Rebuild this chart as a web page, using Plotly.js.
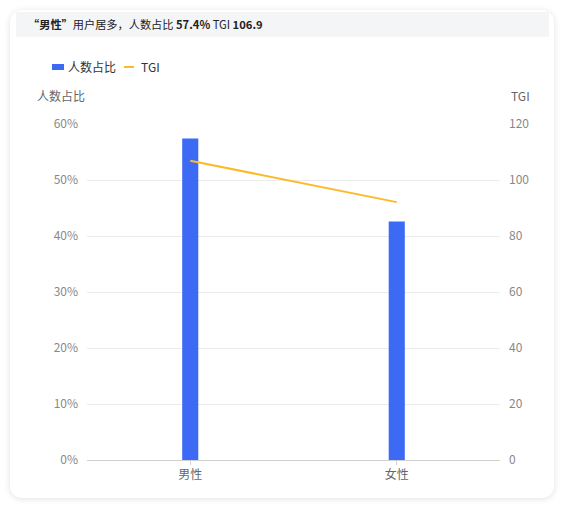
<!DOCTYPE html>
<html>
<head>
<meta charset="utf-8">
<script src="https://cdn.plot.ly/plotly-3.0.1.min.js"></script>
<style>
  html, body { margin: 0; padding: 0; background: #fff; }
  body { width: 564px; height: 509px; position: relative; overflow: hidden;
         font-family: "Noto Sans CJK SC", "Noto Sans", sans-serif; }
  #card { position: absolute; left: 10px; top: 10px; width: 544px; height: 488px;
          background: #fff; border-radius: 12px;
          box-shadow: 0 1px 6px rgba(0,0,0,0.12); }
  #head { position: absolute; left: 16px; top: 12px; width: 533px; height: 25px;
          background: #f4f5f7; font-size: 11.2px; color: #222; line-height: 25px;
          padding-left: 12px; box-sizing: border-box; }
  #legend { position: absolute; left: 52px; top: 57px; height: 16px; font-size: 12px;
            color: #333; line-height: 16px; white-space: nowrap; }
  #legend span { display: inline-block; vertical-align: middle; }
  .sw-bar { width: 12px; height: 6px; background: #3d6af5; margin-right: 4px; }
  .sw-line { width: 10px; height: 2px; background: #fdb92a; margin-left: 8px; margin-right: 7px; }
  #chart { position: absolute; left: 0; top: 0; width: 564px; height: 509px; }
</style>
</head>
<body>
<div id="card"></div>
<div id="head"><b>“男性”</b>用户居多，人数占比 <b>57.4%</b> TGI <b>106.9</b></div>
<div id="legend"><span class="sw-bar"></span><span>人数占比</span><span class="sw-line"></span><span>TGI</span></div>
<div id="chart"></div>
<script>
var genders = ['男性', '女性'];
var shareValues = [0.574, 0.426];
var tgiValues = [106.9, 92.1];

var fontFamily = '"Noto Sans CJK SC", "Noto Sans", sans-serif';

var barTrace = {
    x: genders,
    y: shareValues,
    name: '人数占比',
    type: 'bar',
    width: 0.078,
    marker: { color: '#3d6af5' },
    hoverinfo: 'none'
};

var lineTrace = {
    x: genders,
    y: tgiValues,
    name: 'TGI',
    type: 'scatter',
    mode: 'lines',
    yaxis: 'y2',
    line: { color: '#fdb92a', width: 2 },
    hoverinfo: 'none'
};

var layout = {
    width: 564,
    height: 509,
    margin: { l: 87, r: 64, t: 124, b: 49 },
    paper_bgcolor: 'rgba(0,0,0,0)',
    plot_bgcolor: 'rgba(0,0,0,0)',
    font: { family: fontFamily, size: 12, color: '#888' },
    showlegend: false,
    xaxis: {
        type: 'category',
        range: [-0.5, 1.5],
        showgrid: false,
        showline: true,
        linecolor: '#d0d0d0',
        ticks: 'outside',
        ticklen: 4,
        tickcolor: '#d0d0d0',
        tickfont: { size: 12, color: '#666' },
        fixedrange: true
    },
    yaxis: {
        range: [0, 0.6],
        dtick: 0.1,
        tickformat: '.0%',
        gridcolor: '#ebebeb',
        zeroline: false,
        ticks: '',
        ticklabelstandoff: 8,
        tickfont: { size: 12, color: '#888' },
        fixedrange: true
    },
    yaxis2: {
        range: [0, 120],
        dtick: 20,
        overlaying: 'y',
        side: 'right',
        showgrid: false,
        zeroline: false,
        ticklabelstandoff: 8,
        tickfont: { size: 12, color: '#888' },
        fixedrange: true
    },
    annotations: [
        { text: '人数占比', xref: 'paper', yref: 'paper', x: -0.125, y: 1.085,
          xanchor: 'left', yanchor: 'middle', showarrow: false,
          font: { size: 12, color: '#666' } },
        { text: 'TGI', xref: 'paper', yref: 'paper', x: 1.022, y: 1.085,
          xanchor: 'left', yanchor: 'middle', showarrow: false,
          font: { size: 12, color: '#666' } }
    ]
};

Plotly.newPlot('chart', [barTrace, lineTrace], layout, { displayModeBar: false, staticPlot: true });
</script>
</body>
</html>
